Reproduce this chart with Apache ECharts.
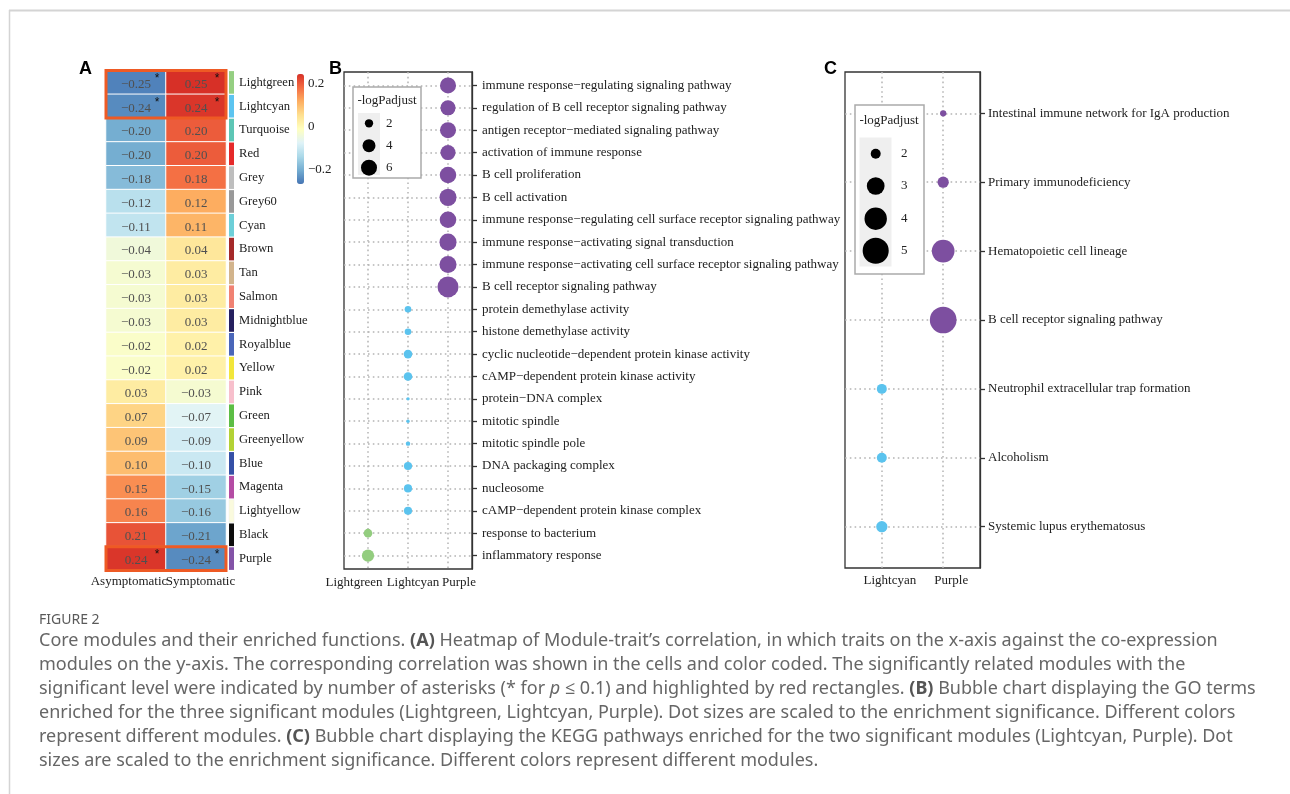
<!DOCTYPE html>
<html><head><meta charset="utf-8">
<script src="https://cdn.jsdelivr.net/npm/echarts@6/dist/echarts.min.js"></script>
<style>html,body{margin:0;padding:0;background:#fff}#c{width:1290px;height:794px}</style>
</head><body><div id="c"></div>
<script>
// ---------- Panel A data ----------
const traits = ['Asymptomatic', 'Symptomatic'];
const modules = ['Lightgreen','Lightcyan','Turquoise','Red','Grey','Grey60','Cyan','Brown','Tan','Salmon','Midnightblue','Royalblue','Yellow','Pink','Green','Greenyellow','Blue','Magenta','Lightyellow','Black','Purple'];
const moduleColors = ['#95cf82','#5cc4f0','#5dc6b5','#e52a2a','#bebebe','#999999','#6dcfd8','#a52a2a','#d2b48c','#f08273','#26205f','#4a66b9','#f2e63a','#f7bfcc','#5cbe45','#b3d235','#3550a6','#b44ca4','#fafadd','#0d0d0d','#8353a7'];
const corrAsym = [-0.25,-0.24,-0.20,-0.20,-0.18,-0.12,-0.11,-0.04,-0.03,-0.03,-0.03,-0.02,-0.02,0.03,0.07,0.09,0.10,0.15,0.16,0.21,0.24];
const corrSym  = [0.25,0.24,0.20,0.20,0.18,0.12,0.11,0.04,0.03,0.03,0.03,0.02,0.02,-0.03,-0.07,-0.09,-0.10,-0.15,-0.16,-0.21,-0.24];
const sigModules = ['Lightgreen','Lightcyan','Purple'];
const highlightGroups = [['Lightgreen','Lightcyan'], ['Purple']];
const colorbarTicks = [-0.2, 0, 0.2];

// ---------- Panel B data (GO terms) ----------
const goModules = ['Lightgreen','Lightcyan','Purple'];
const goTerms = [
 'immune response\u2212regulating signaling pathway',
 'regulation of B cell receptor signaling pathway',
 'antigen receptor\u2212mediated signaling pathway',
 'activation of immune response',
 'B cell proliferation',
 'B cell activation',
 'immune response\u2212regulating cell surface receptor signaling pathway',
 'immune response\u2212activating signal transduction',
 'immune response\u2212activating cell surface receptor signaling pathway',
 'B cell receptor signaling pathway',
 'protein demethylase activity',
 'histone demethylase activity',
 'cyclic nucleotide\u2212dependent protein kinase activity',
 'cAMP\u2212dependent protein kinase activity',
 'protein\u2212DNA complex',
 'mitotic spindle',
 'mitotic spindle pole',
 'DNA packaging complex',
 'nucleosome',
 'cAMP\u2212dependent protein kinase complex',
 'response to bacterium',
 'inflammatory response'];
const goModule = ['Purple','Purple','Purple','Purple','Purple','Purple','Purple','Purple','Purple','Purple',
 'Lightcyan','Lightcyan','Lightcyan','Lightcyan','Lightcyan','Lightcyan','Lightcyan','Lightcyan','Lightcyan','Lightcyan',
 'Lightgreen','Lightgreen'];
const goScore = [6.0,5.3,6.0,5.3,6.4,6.8,6.4,6.8,6.8,10.5,
 1.6,1.6,2.1,2.1,1.3,1.3,1.33,1.95,1.95,1.95,
 2.1,3.6];
const goLegend = [2,4,6];

// ---------- Panel C data (KEGG) ----------
const keggModules = ['Lightcyan','Purple'];
const keggTerms = ['Intestinal immune network for IgA production','Primary immunodeficiency','Hematopoietic cell lineage','B cell receptor signaling pathway','Neutrophil extracellular trap formation','Alcoholism','Systemic lupus erythematosus'];
const keggModule = ['Purple','Purple','Purple','Purple','Lightcyan','Lightcyan','Lightcyan'];
const keggScore = [1.82,2.11,4.07,5.19,2.0,2.0,2.11];
const keggLegend = [2,3,4,5];

const bubbleColors = {Lightgreen:'#93cd7f', Lightcyan:'#5bc3ee', Purple:'#7d4fa0'};

// ---------- helpers ----------
const SERIF = '"Liberation Serif","Times New Roman",serif';
const minus = v => (v < 0 ? '\u2212' : '') + Math.abs(v);
const fmt2 = v => (v < 0 ? '\u2212' : '') + Math.abs(v).toFixed(2);
const sizeB = v => 3.45 + 5.8 * Math.sqrt(Math.max(0, v - 1.3));
const sizeC = v => 4.6 + 12 * Math.sqrt(Math.max(0, v - 1.8));
const range = n => Array.from({length:n}, (_, i) => i);

const heatData = [];
modules.forEach((m, i) => { heatData.push([0, i, corrAsym[i]]); heatData.push([1, i, corrSym[i]]); });
const starData = [];
sigModules.forEach(m => { const i = modules.indexOf(m); starData.push([0, i]); starData.push([1, i]); });
const rectData = highlightGroups.map(g => [0, modules.indexOf(g[0]), modules.indexOf(g[g.length - 1])]);
const stripData = modules.map((m, i) => [0, i]);

const gridLineStyle = {color:'#b4b4b4', type:[1.6, 3.2], width:1.5};

function bubbleSeries(mods, terms, modOf, score, sizeFn, ax) {
  const out = [];
  out.push({type:'scatter', xAxisIndex:ax, yAxisIndex:ax, data:[], silent:true,
    markLine:{silent:true, symbol:'none', z:1, animation:false, label:{show:false}, lineStyle:gridLineStyle, emphasis:{disabled:true},
      data:[...mods.map((m, i) => ({xAxis:i})), ...terms.map((t, i) => ({yAxis:i}))]}});
  mods.forEach((m, mi) => {
    const data = [];
    terms.forEach((t, i) => { if (modOf[i] === m) data.push([mi, i, score[i]]); });
    out.push({type:'scatter', name:m, xAxisIndex:ax, yAxisIndex:ax, data, z:3,
      symbolSize: d => sizeFn(d[2]), itemStyle:{color:bubbleColors[m], opacity:1}});
  });
  return out;
}

const chart = echarts.init(document.getElementById('c'));

const labelFont = {fontFamily:SERIF, fontSize:13, color:'#222'};

const option = {
  animation:false,
  backgroundColor:'#fff',
  grid:[
    {left:106, top:70.5, width:120, height:500},
    {left:229, top:70.5, width:5, height:500},
    {left:297, top:74, width:7, height:110},
    {left:344, top:72, width:128, height:497, show:true, borderColor:'#333', borderWidth:1.3, backgroundColor:'transparent'},
    {left:845, top:72, width:135, height:496, show:true, borderColor:'#333', borderWidth:1.3, backgroundColor:'transparent'}
  ],
  visualMap:{type:'continuous', min:-0.265, max:0.2465, seriesIndex:0, dimension:2, left:297, top:74,
    itemWidth:7, itemHeight:110, padding:0, calculable:false, hoverLink:false, orient:'vertical',
    inRange:{color:['#4575b4','#74add1','#abd9e9','#e0f3f8','#ffffbf','#fee090','#fdae61','#f46d43','#d73027']}},
  xAxis:[
    {type:'category', gridIndex:0, data:traits, axisLine:{show:false}, axisTick:{show:false}, splitLine:{show:false},
      axisLabel:Object.assign({margin:5, interval:0, formatter:(v, i) => i === 0 ? '{a|' + v + '}' : '{b|' + v + '}',
        rich:{a:Object.assign({padding:[0,14,0,0]}, labelFont), b:Object.assign({padding:[0,0,0,9]}, labelFont)}}, labelFont)},
    {type:'category', gridIndex:1, data:['module'], show:false},
    {type:'value', gridIndex:2, show:false},
    {type:'value', gridIndex:3, min:-0.6, max:2.6, axisLine:{show:false, onZero:false}, axisTick:{show:false}, splitLine:{show:false},
      axisLabel:Object.assign({customValues:[0,1,2], margin:7,
        formatter:v => ['{g|','{c|','{p|'][Math.round(v)] + goModules[Math.round(v)] + '}',
        rich:{g:Object.assign({padding:[0,28,0,0]}, labelFont), c:Object.assign({padding:[0,0,0,10]}, labelFont), p:Object.assign({padding:[0,0,0,22]}, labelFont)}}, labelFont)},
    {type:'value', gridIndex:4, min:-0.6, max:1.6, axisLine:{show:false, onZero:false}, axisTick:{show:false}, splitLine:{show:false},
      axisLabel:Object.assign({customValues:[0,1], margin:6,
        formatter:v => '{s|' + keggModules[Math.round(v)] + '}',
        rich:{s:Object.assign({padding:[0,0,0,16]}, labelFont)}}, labelFont)}
  ],
  yAxis:[
    {type:'category', gridIndex:0, data:modules, inverse:true, show:false},
    {type:'category', gridIndex:1, data:modules, inverse:true, position:'right', axisLine:{show:false}, axisTick:{show:false},
      axisLabel:Object.assign({margin:5, interval:0, padding:[6,0,0,0], fontSize:12.6}, labelFont, {fontSize:12.6})},
    {type:'value', gridIndex:2, min:-0.265, max:0.2465, position:'right', axisLine:{show:false, onZero:false}, axisTick:{show:false}, splitLine:{show:false},
      axisLabel:Object.assign({customValues:colorbarTicks, margin:4, padding:[5,0,0,0], formatter:v => minus(v)}, labelFont)},
    {type:'value', gridIndex:3, min:-0.6, max:21.6, inverse:true, position:'right', splitLine:{show:false},
      axisLine:{show:true, onZero:false, lineStyle:{color:'#333', width:1.3}},
      axisTick:{show:true, customValues:range(goTerms.length), length:5, lineStyle:{color:'#333', width:1.3}},
      axisLabel:Object.assign({customValues:range(goTerms.length), margin:10, formatter:v => goTerms[Math.round(v)]}, labelFont)},
    {type:'value', gridIndex:4, min:-0.6, max:6.6, inverse:true, position:'right', splitLine:{show:false},
      axisLine:{show:true, onZero:false, lineStyle:{color:'#333', width:1.3}},
      axisTick:{show:true, customValues:range(keggTerms.length), length:5, lineStyle:{color:'#333', width:1.3}},
      axisLabel:Object.assign({customValues:range(keggTerms.length), margin:8, formatter:v => keggTerms[Math.round(v)]}, labelFont)}
  ],
  series:[
    {type:'heatmap', xAxisIndex:0, yAxisIndex:0, data:heatData, silent:true,
      itemStyle:{borderColor:'#fff', borderWidth:1},
      label:{show:true, formatter:p => fmt2(p.value[2]), fontFamily:SERIF, fontSize:13, color:'#505050', offset:[0,2]}},
    {type:'custom', xAxisIndex:0, yAxisIndex:0, data:starData, silent:true, encode:{x:0, y:1}, z:5,
      renderItem:(params, api) => {
        const c = api.coord([api.value(0), api.value(1)]);
        return {type:'text', x:c[0] + 21, y:c[1] - 3.5, style:{text:'*', fill:'#111', font:'12px "Liberation Sans", Arial, sans-serif', align:'center', verticalAlign:'middle'}};
      }},
    {type:'custom', xAxisIndex:0, yAxisIndex:0, data:rectData, silent:true, encode:{x:0, y:1}, z:6,
      renderItem:(params, api) => {
        const c = api.coord([0, api.value(1)]); const sz = api.size([1, 1]);
        const n = api.value(2) - api.value(1) + 1;
        return {type:'rect', shape:{x:c[0] - sz[0] / 2, y:c[1] - sz[1] / 2, width:sz[0] * 2, height:sz[1] * n},
          style:{fill:'none', stroke:'#ee5a24', lineWidth:3}};
      }},
    {type:'custom', xAxisIndex:1, yAxisIndex:1, data:stripData, silent:true, encode:{x:0, y:1},
      renderItem:(params, api) => {
        const i = api.value(1); const c = api.coord([0, i]); const sz = api.size([1, 1]);
        return {type:'rect', shape:{x:c[0] - sz[0] / 2, y:c[1] - sz[1] / 2 + 0.6, width:sz[0], height:sz[1] - 1.2},
          style:{fill:moduleColors[i], stroke: i === modules.indexOf('Lightyellow') ? '#eee' : null, lineWidth:0.5}};
      }},
    ...bubbleSeries(goModules, goTerms, goModule, goScore, sizeB, 3),
    ...bubbleSeries(keggModules, keggTerms, keggModule, keggScore, sizeC, 4)
  ],
  graphic:[]
};

// ----- decorations: border, panel letters, size legends, caption -----
const g = [];
g.push({type:'line', shape:{x1:9, y1:10.5, x2:1290, y2:10.5}, style:{stroke:'#d4d4d4', lineWidth:2}, silent:true});
g.push({type:'line', shape:{x1:9.5, y1:10, x2:9.5, y2:794}, style:{stroke:'#d4d4d4', lineWidth:1.5}, silent:true});
[['A',79],['B',329],['C',824]].forEach(([t, x]) => g.push({type:'text', x, y:60,
  style:{text:t, font:'bold 18px "Liberation Sans", Arial, sans-serif', fill:'#000', verticalAlign:'alphabetic'}, silent:true}));

function sizeLegend(box, title, key, cx, vals, ys, sizeFn, lx) {
  g.push({type:'rect', shape:box, style:{fill:'#fff', stroke:'#ababab', lineWidth:1.5}, z:100, silent:true});
  g.push({type:'text', x:title[0], y:title[1], style:{text:'-logPadjust', font:'13px ' + SERIF, fill:'#222', align:'center', verticalAlign:'middle'}, z:101, silent:true});
  g.push({type:'rect', shape:key, style:{fill:'#efefef'}, z:101, silent:true});
  vals.forEach((v, i) => {
    g.push({type:'circle', shape:{cx, cy:ys[i], r:sizeFn(v) / 2}, style:{fill:'#000'}, z:102, silent:true});
    g.push({type:'text', x:lx, y:ys[i], style:{text:String(v), font:'13px ' + SERIF, fill:'#222', verticalAlign:'middle'}, z:102, silent:true});
  });
}
sizeLegend({x:353, y:87, width:68, height:91}, [387, 100.5], {x:358, y:113, width:22, height:62}, 369, goLegend, [123.3, 145.7, 167.7], sizeB, 386);
sizeLegend({x:855, y:105, width:69, height:169}, [889, 121], {x:859.5, y:137.5, width:32, height:129}, 875.7, keggLegend, [153.7, 186, 218.7, 250.7], sizeC, 901);

const CAP = '"Noto Sans", "Open Sans", sans-serif';
g.push({type:'text', x:39, y:620, style:{text:'FIGURE 2', font:'14px ' + CAP, fill:'#5a5a5a', verticalAlign:'middle'}, silent:true});
const capLines = [
  'Core modules and their enriched functions. {b|(A)} Heatmap of Module-trait\u2019s correlation, in which traits on the x-axis against the co-expression',
  'modules on the y-axis. The corresponding correlation was shown in the cells and color coded. The significantly related modules with the',
  'significant level were indicated by number of asterisks (* for {i|p} \u2264 0.1) and highlighted by red rectangles. {b|(B)} Bubble chart displaying the GO terms',
  'enriched for the three significant modules (Lightgreen, Lightcyan, Purple). Dot sizes are scaled to the enrichment significance. Different colors',
  'represent different modules. {b|(C)} Bubble chart displaying the KEGG pathways enriched for the two significant modules (Lightcyan, Purple). Dot',
  'sizes are scaled to the enrichment significance. Different colors represent different modules.'];
capLines.forEach((t, i) => g.push({type:'text', x:39, y:641 + 24 * i,
  style:{text:t, font:'18px ' + CAP, fill:'#666', verticalAlign:'middle',
    rich:{b:{fontWeight:'bold', fontSize:18, fontFamily:CAP, fill:'#555'}, i:{fontStyle:'italic', fontSize:18, fontFamily:CAP, fill:'#666'}}}, silent:true}));
option.graphic = g;

chart.setOption(option);
</script>
</body></html>
